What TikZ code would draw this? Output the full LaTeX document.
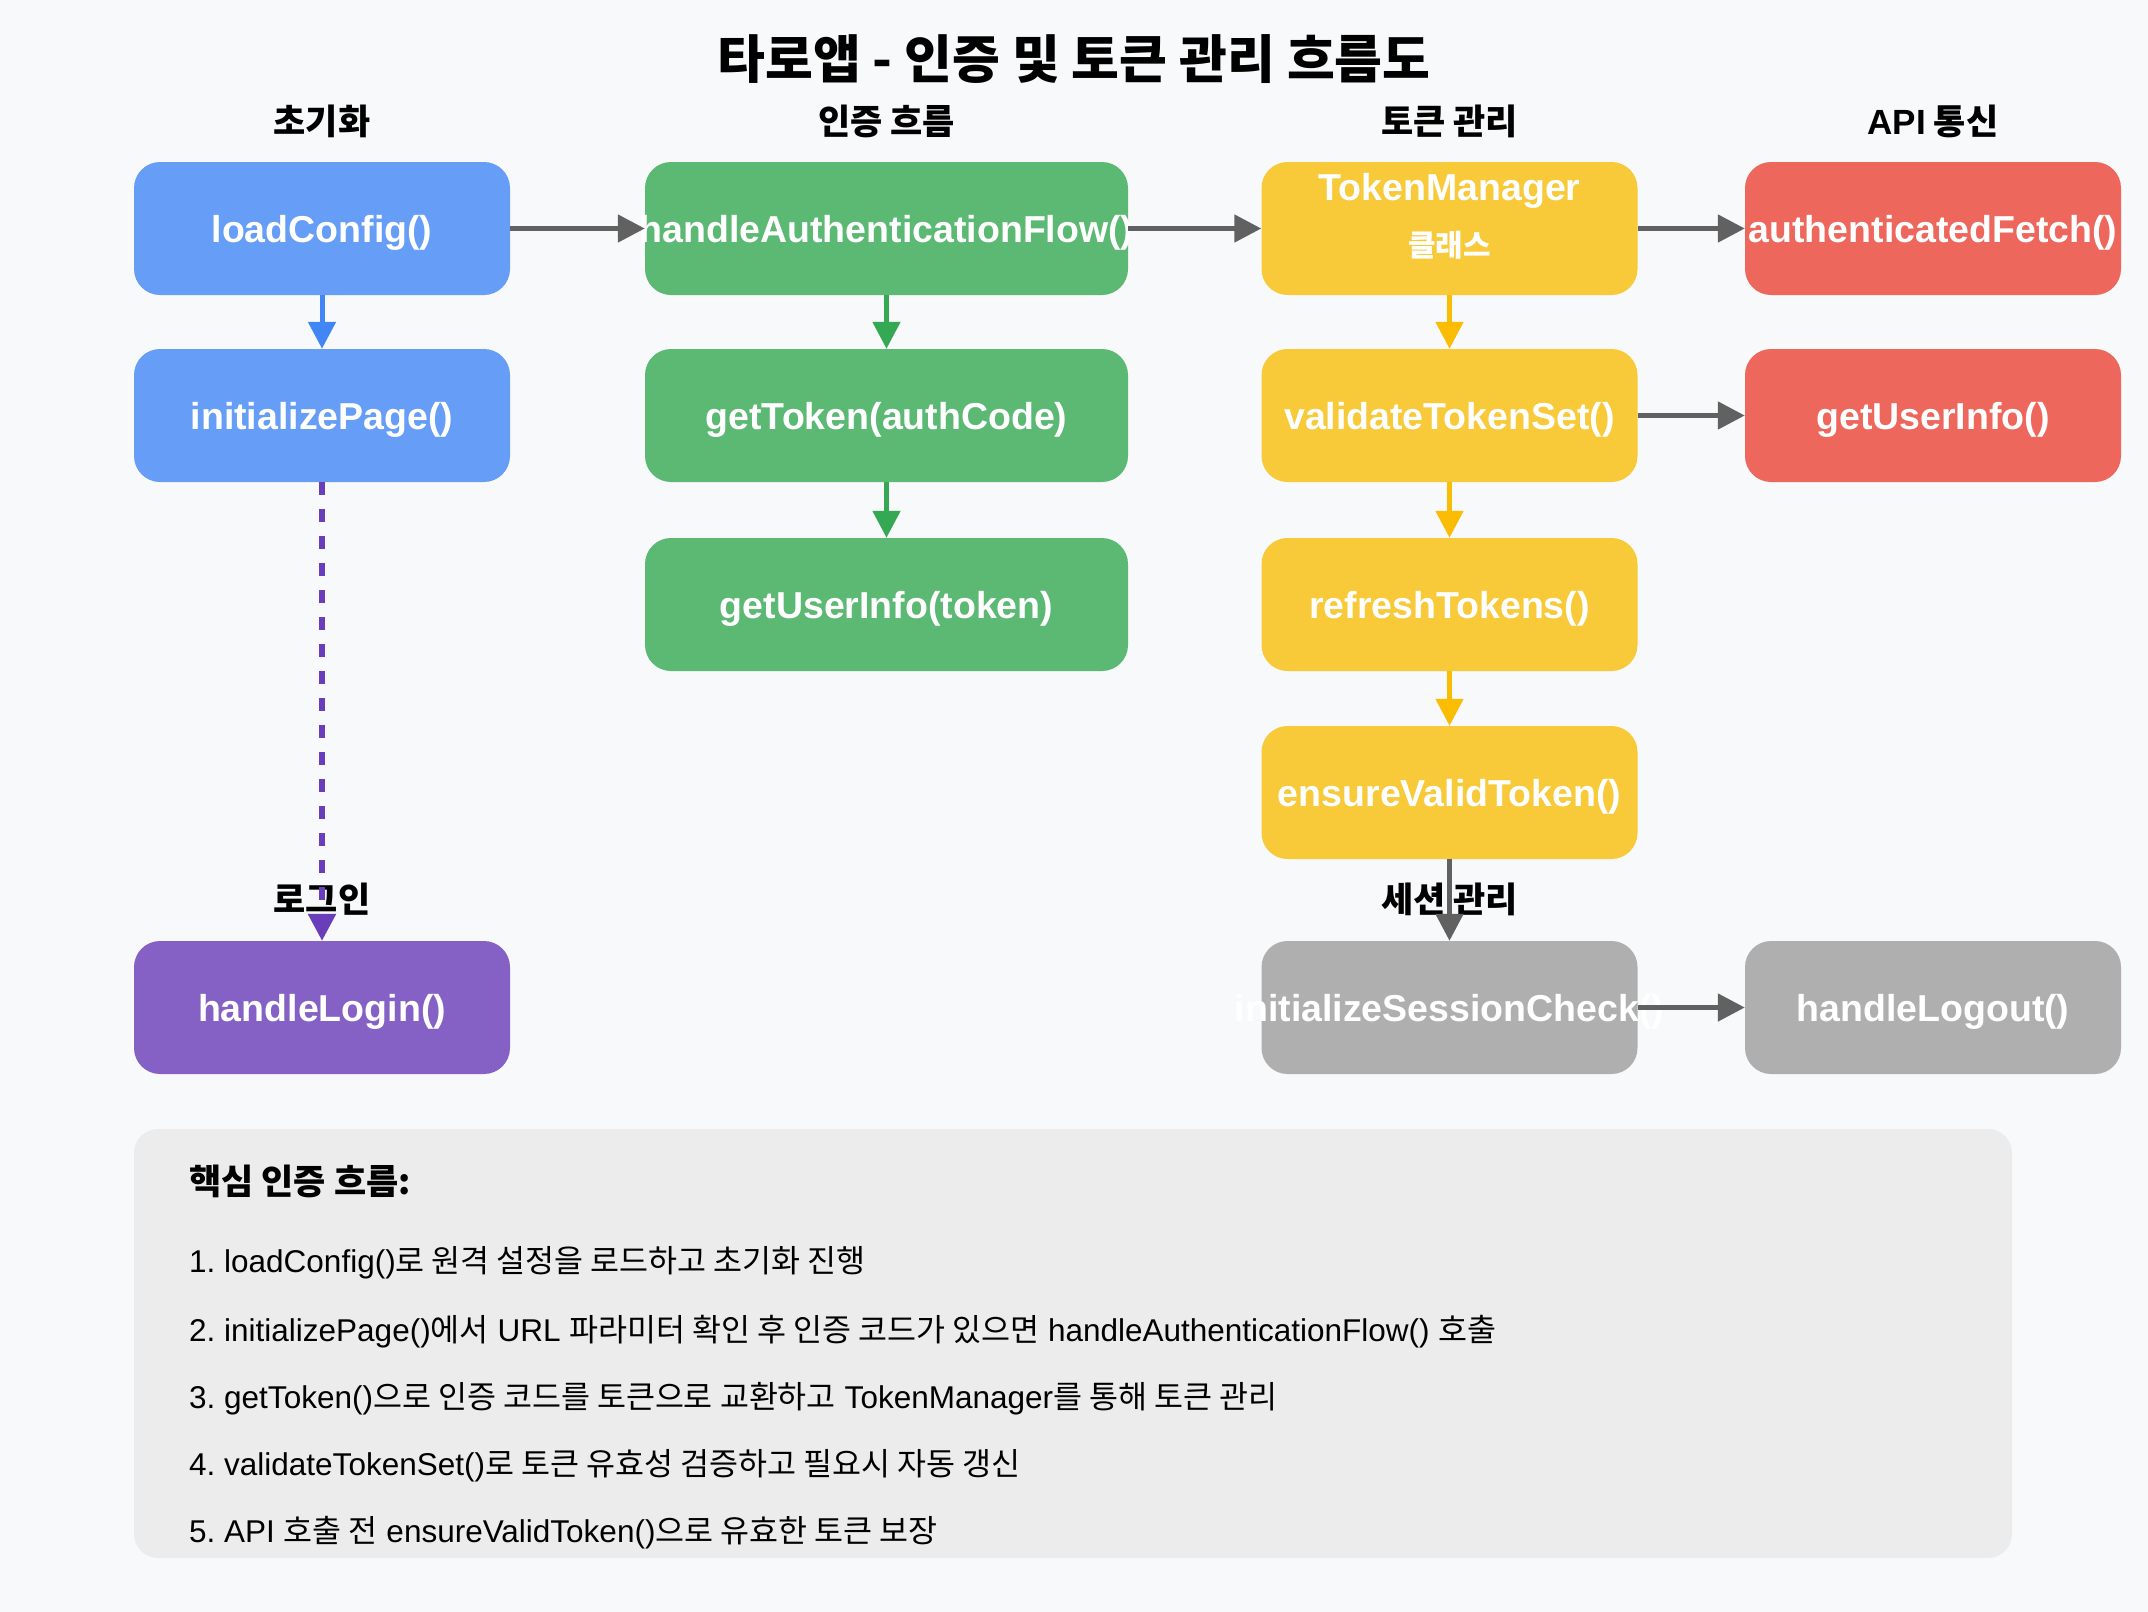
\documentclass[tikz,border=0pt]{standalone}
\usepackage{fontspec}
\setmainfont{Liberation Sans}
\newfontfamily\kr{Noto Sans CJK KR}
\usetikzlibrary{arrows.meta}
\frenchspacing
\definecolor{bgc}{HTML}{F8F9FA}
\definecolor{panelc}{HTML}{EBECEB}
\definecolor{bluebox}{HTML}{669DF6}
\definecolor{bluearr}{HTML}{4285F4}
\definecolor{greenbox}{HTML}{5BB974}
\definecolor{greenarr}{HTML}{34A853}
\definecolor{yellowbox}{HTML}{F8C938}
\definecolor{yellowarr}{HTML}{FBBC04}
\definecolor{redbox}{HTML}{EE675C}
\definecolor{purplebox}{HTML}{8561C6}
\definecolor{purplearr}{HTML}{6A3DBA}
\definecolor{graybox}{HTML}{AEAFAE}
\definecolor{grayarr}{HTML}{616161}
\newcommand\K[1]{{\kr #1}}
\newcommand\btx[1]{\raisebox{-13.5pt}[0pt][0pt]{\makebox[0pt]{#1}}}
\tikzset{
  fnbox/.style={rounded corners=26pt, minimum width=376pt, minimum height=133pt,
    inner sep=0pt, text=white, font=\bfseries\fontsize{37.5}{44}\selectfont},
  bluebx/.style={fnbox, fill=bluebox},
  greenbx/.style={fnbox, fill=greenbox, minimum width=483pt},
  yellowbx/.style={fnbox, fill=yellowbox},
  redbx/.style={fnbox, fill=redbox},
  purplebx/.style={fnbox, fill=purplebox},
  graybx/.style={fnbox, fill=graybox},
  boxtext/.style={text=white, inner sep=0pt},
  colhead/.style={font=\kr\bfseries\fontsize{35}{40}\selectfont, text=black, inner sep=0pt},
  titletext/.style={font=\kr\bfseries\fontsize{52}{60}\selectfont, text=black, inner sep=0pt},
  arr/.style={line width=5pt, -{Triangle[length=27pt,width=27pt]}},
  grayarrow/.style={arr, draw=grayarr, fill=grayarr},
  bluearrow/.style={arr, draw=bluearr},
  greenarrow/.style={arr, draw=greenarr},
  yellowarrow/.style={arr, draw=yellowarr},
  purplearrow/.style={arr, line width=5.5pt, draw=purplearr, dash pattern=on 13pt off 14pt},
  panelbox/.style={fill=panelc, rounded corners=24pt, minimum width=1878pt, minimum height=429pt, inner sep=0pt},
  panelhead/.style={anchor=west, inner sep=0pt, font=\kr\bfseries\fontsize{35}{40}\selectfont},
  listline/.style={anchor=west, inner sep=0pt, font=\fontsize{31.5}{38}\selectfont},
}
\begin{document}
\begin{tikzpicture}[x=1pt,y=-1pt]
\path[use as bounding box, fill=bgc] (0,0) rectangle (2148,1612);

\node[titletext] (title) at (1074,59) {타로앱 - 인증 및 토큰 관리 흐름도};

\node[colhead] (h1) at (322,121) {초기화};
\node[colhead] (h2) at (886.5,121) {인증 흐름};
\node[colhead] (h3) at (1449.5,121) {토큰 관리};
\node[colhead] (h4) at (1933,121) {{\rmfamily API} 통신};
\node[colhead] (h5) at (322,899) {로그인};
\node[colhead] (h6) at (1449.5,899) {세션 관리};

% column 1
\node[bluebx] (load) at (322,228.5) {\btx{loadConfig()}};
\node[bluebx] (init) at (322,415.5) {\btx{initializePage()}};
\node[purplebx] (login) at (322,1007.5) {\btx{handleLogin()}};
% column 2
\node[greenbx] (auth) at (886.5,228.5) {\btx{handleAuthenticationFlow()}};
\node[greenbx] (gettok) at (886.5,415.5) {\btx{getToken(authCode)}};
\node[greenbx] (gui) at (886.5,604.5) {\btx{getUserInfo(token)}};
% column 3
\node[yellowbx] (tm) at (1449.5,228.5) {};
\node[boxtext, font=\bfseries\fontsize{37.5}{44}\selectfont] (tmt1) at (1449.5,191) {TokenManager};
\node[boxtext, font=\kr\bfseries\fontsize{30}{34}\selectfont] (tmt2) at (1449.5,245) {클래스};
\node[yellowbx] (vts) at (1449.5,415.5) {\btx{validateTokenSet()}};
\node[yellowbx] (rt) at (1449.5,604.5) {\btx{refreshTokens()}};
\node[yellowbx] (evt) at (1449.5,792.5) {\btx{ensureValidToken()}};
\node[graybx] (isc) at (1449.5,1007.5) {\btx{initializeSessionCheck()}};
% column 4
\node[redbx] (afetch) at (1933,228.5) {\btx{authenticatedFetch()}};
\node[redbx] (gui2) at (1933,415.5) {\btx{getUserInfo()}};
\node[graybx] (logout) at (1933,1007.5) {\btx{handleLogout()}};

% connectors
\draw[grayarrow] (load) -- (auth);
\draw[grayarrow] (auth) -- (tm);
\draw[grayarrow] (tm) -- (afetch);
\draw[grayarrow] (vts) -- (gui2);
\draw[grayarrow] (evt) -- (isc);
\draw[grayarrow] (isc) -- (logout);
\draw[bluearrow] (load) -- (init);
\draw[purplearrow] (init) -- (login);
\draw[greenarrow] (auth) -- (gettok);
\draw[greenarrow] (gettok) -- (gui);
\draw[yellowarrow] (tm) -- (vts);
\draw[yellowarrow] (vts) -- (rt);
\draw[yellowarrow] (rt) -- (evt);

% summary panel
\node[panelbox] (panel) at (1073,1343.5) {};
\node[panelhead] (ph) at (189,1181) {핵심 인증 흐름:};
\node[listline] (l1) at (189,1263) {1. loadConfig()\K{로 원격 설정을 로드하고 초기화 진행}};
\node[listline] (l2) at (189,1332) {2. initializePage()\K{에서} URL \K{파라미터 확인 후 인증 코드가 있으면} handleAuthenticationFlow() \K{호출}};
\node[listline] (l3) at (189,1399) {3. getToken()\K{으로 인증 코드를 토큰으로 교환하고} TokenManager\K{를 통해 토큰 관리}};
\node[listline] (l4) at (189,1466) {4. validateTokenSet()\K{로 토큰 유효성 검증하고 필요시 자동 갱신}};
\node[listline] (l5) at (189,1533) {5. API \K{호출 전} ensureValidToken()\K{으로 유효한 토큰 보장}};
\end{tikzpicture}
\end{document}
